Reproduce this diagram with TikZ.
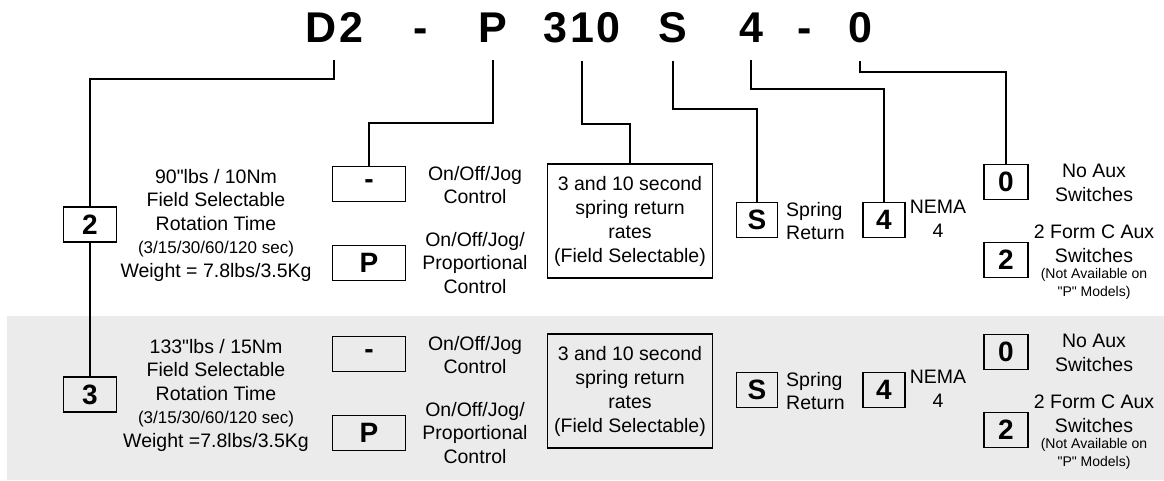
\documentclass[tikz,border=0pt]{standalone}
\usepackage{fontspec}
\setmainfont{Liberation Sans}[Ligatures=TeXOff]
\usepackage{tikz}

\begin{document}
\begin{tikzpicture}[x=1pt,y=-1pt,
	code/.style={font=\fontsize{43}{43}\selectfont\bfseries, inner sep=0pt, anchor=base},
	box/.style={draw, line width=1.8pt, inner sep=0pt, minimum height=35pt, font=\fontsize{28}{28}\selectfont\bfseries},
	ratebox/.style={box, minimum width=165pt, minimum height=114pt, align=center, font=\fontsize{19.5}{24}\selectfont},
	txt/.style={align=center, inner sep=0pt, font=\fontsize{19.5}{23.5}\selectfont},
	wire/.style={line width=1.8pt}]
\useasboundingbox (0,0) rectangle (1164,480);
\fill[black!8] (7,316) rectangle (1164,480);

% model code
\node[code] (cD) at (334,42) {D\kern3pt2};
\node[code] (cDashA) at (421,42) {-};
\node[code] (cP) at (493,42) {P};
\node[code] (cMot) at (582,42) {3\kern3pt1\kern3pt0};
\node[code] (cS) at (673,42) {S};
\node[code] (cN) at (751,42) {4};
\node[code] (cDashB) at (805,42) {-};
\node[code] (cAux) at (860,42) {0};

% the two option rows
\foreach \r/\dy/\num/\torque/\wt in {1/0/2/{90"lbs / 10Nm}/{Weight = 7.8lbs/3.5Kg},
                                     2/170/3/{133"lbs / 15Nm}/{Weight =7.8lbs/3.5Kg}}{
	\node[box, minimum width=53pt] (num\r) at (90,224.5+\dy) {\num};
	\node[txt] (torque\r) at (216,225+\dy) {\torque\\Field Selectable\\Rotation Time\\{\fontsize{17}{23.5}\selectfont(3/15/30/60/120 sec)}\\\wt};
	
	\node[box, minimum width=73pt] (dash\r) at (369,184+\dy) {-};
	\node[txt] (jog\r) at (475,185+\dy) {On/Off/Jog\\Control};
	\node[box, minimum width=73pt] (prop\r) at (369,263+\dy) {P};
	\node[txt] (propt\r) at (475,263+\dy) {On/Off/Jog/\\Proportional\\Control};
	
	\node[ratebox] (rate\r) at (630,221+\dy) {3 and 10 second\\spring return\\rates\\(Field Selectable)};
	
	\node[box, minimum width=41pt] (spr\r) at (757,220+\dy) {S};
	\node[txt, anchor=west, align=left] (sprt\r) at (786,221+\dy) {Spring\\Return};
	\node[box, minimum width=42pt] (nema\r) at (884,220+\dy) {4};
	\node[txt] (nemat\r) at (938,219+\dy) {NEMA\\4};
	
	\node[box, minimum width=44pt] (aux\r) at (1006,182+\dy) {0};
	\node[txt] (auxt\r) at (1094,183+\dy) {No Aux\\Switches};
	\node[box, minimum width=44pt] (fc\r) at (1006,260+\dy) {2};
	\node[txt] (fct\r) at (1094,262+\dy) {2 Form C Aux\\Switches\\[-7.5pt]{\fontsize{14}{18}\selectfont(Not Available on}\\[-5.5pt]{\fontsize{14}{18}\selectfont"P" Models)}};
}

% connectors
\draw[wire] ([yshift=-18pt]cD.south) -- ++(0,19) -| (num1.north);
\draw[wire] (num1.south) -- (num2.north);
\draw[wire] ([yshift=-18pt]cP.south) -- ++(0,63) -| (dash1.north);
\draw[wire] ([yshift=-18pt]cMot.south) -- ++(0,63) -| (rate1.north);
\draw[wire] ([yshift=-18pt]cS.south) -- ++(0,48) -| (spr1.north);
\draw[wire] ([yshift=-18pt]cN.south) -- ++(0,29) -| (nema1.north);
\draw[wire] ([yshift=-18pt]cAux.south) -- ++(0,11) -| (aux1.north);
\end{tikzpicture}
\end{document}
